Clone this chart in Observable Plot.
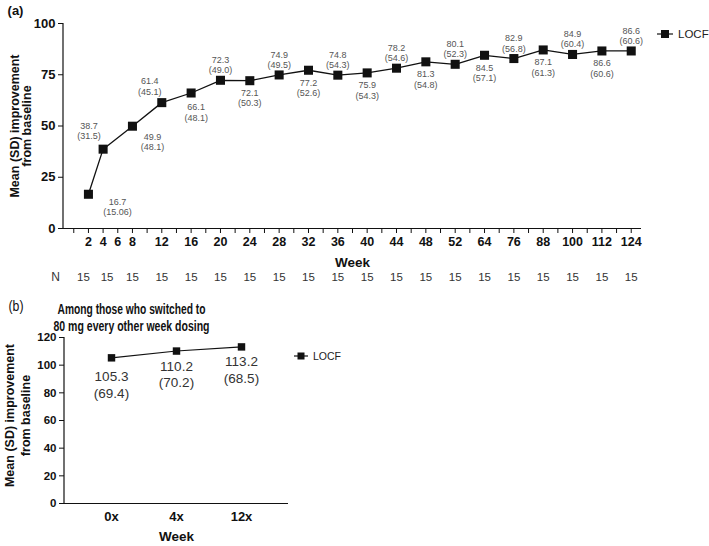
<!DOCTYPE html>
<html><head><meta charset="utf-8">
<script src="https://cdn.jsdelivr.net/npm/d3@7"></script>
<script src="https://cdn.jsdelivr.net/npm/@observablehq/plot@0.6"></script>
<style>
body{margin:0;background:#fff;font-family:"Liberation Sans",Arial,sans-serif;}
#wrap{position:relative;width:709px;height:546px;overflow:hidden;}
#a,#b{position:absolute;left:0;}
#a{top:0}#b{top:290px}
.leg{position:absolute;display:flex;align-items:center;color:#222;white-space:nowrap;}
.leg svg{margin-right:5px;}
</style></head><body>
<div id="wrap"><div id="a"></div><div id="b"></div>
<div class="leg" id="legA" style="left:657px;top:28px;font-size:11.5px;"></div>
<div class="leg" id="legB" style="left:294px;top:350px;font-size:10.5px;"></div>
</div>
<script>
// ---- data: panel (a)
const weeks = [2,4,8,12,16,20,24,28,32,36,40,44,48,52,64,76,88,100,112,124];
const meanA = [16.7,38.7,49.9,61.4,66.1,72.3,72.1,74.9,77.2,74.8,75.9,78.2,81.3,80.1,84.5,82.9,87.1,84.9,86.6,86.6];
const sdA = ["15.06","31.5","48.1","45.1","48.1","49.0","50.3","49.5","52.6","54.3","54.3","54.6","54.8","52.3","57.1","56.8","61.3","60.4","60.6","60.6"];
const nA = [15,15,15,15,15,15,15,15,15,15,15,15,15,15,15,15,15,15,15,15];
const tickWeeks = [2,4,6,8,12,16,20,24,28,32,36,40,44,48,52,64,76,88,100,112,124];
const yTicksA = [0,25,50,75,100];
// ---- data: panel (b)
const catsB = ["0x","4x","12x"];
const meanB = [105.3,110.2,113.2];
const sdB = ["69.4","70.2","68.5"];
const yTicksB = [0,20,40,60,80,100,120];
const titleB = ["Among those who switched to", "80 mg every other week dosing"];

const FONT = "'Liberation Sans', Arial, sans-serif";
// axis position: 2-week ticks up to week 52, then 6-week ticks
const pos = w => w <= 52 ? w / 2 : 26 + (w - 52) / 6;
const xDomA = [-0.7, 38.7];
const dataA = weeks.map((w, i) => ({week: w, p: pos(w), mean: meanA[i], sd: sdA[i], n: nA[i], i}));
const lab = d => `${d.mean.toFixed(1)}\n(${d.sd})`;

const leftLine = (index, scales, values, dims) =>
  d3.create("svg:line").attr("x1", dims.marginLeft).attr("x2", dims.marginLeft)
    .attr("y1", dims.marginTop).attr("y2", dims.height - dims.marginBottom)
    .attr("stroke", "#111").attr("stroke-width", 1.2).node();

const labStyle = {fontSize: 9, fill: "#555", lineHeight: 1.15};
const special = [
  {i: 0, dx: 29, dy: 3, anchor: "top"},
  {i: 1, dx: -14, dy: -10, anchor: "bottom"},
  {i: 2, dx: 20, dy: 6, anchor: "top"},
  {i: 3, dx: -12, dy: -8, anchor: "bottom"},
  {i: 4, dx: 5, dy: 10, anchor: "top"}
];
const generic = dataA.filter(d => d.i > 4);
const nStyle = {frameAnchor: "bottom", dy: 52, fontSize: 11.5, fill: "#333"};

const plotA = Plot.plot({
  width: 709, height: 290,
  marginTop: 23, marginBottom: 62, marginLeft: 63, marginRight: 68,
  style: {fontFamily: FONT, background: "transparent", color: "#111"},
  x: {domain: xDomA, label: null},
  y: {domain: [0, 100], label: null},
  marks: [
    Plot.axisX(d3.range(0, 39), {
      tickSize: 5, tickPadding: 4, fontSize: 12.5, fontWeight: "bold", fill: "#111",
      tickFormat: p => { const w = tickWeeks.find(t => pos(t) === p); return w === undefined ? "" : String(w); }
    }),
    Plot.axisY(yTicksA, {tickSize: 5, tickPadding: 3, fontSize: 13, fontWeight: "bold", fill: "#111"}),
    Plot.ruleY([0], {stroke: "#111", strokeWidth: 1.2}),
    leftLine,
    Plot.line(dataA, {x: "p", y: "mean", stroke: "#111", strokeWidth: 1.3}),
    Plot.dot(dataA, {x: "p", y: "mean", symbol: "square", r: 5.1, fill: "#111", stroke: "none"}),
    Plot.text(generic.filter(d => d.i % 2 === 1), {x: "p", y: "mean", text: lab, lineAnchor: "bottom", dy: -7, ...labStyle}),
    Plot.text(generic.filter(d => d.i % 2 === 0), {x: "p", y: "mean", text: lab, lineAnchor: "top", dy: 8, ...labStyle}),
    ...special.map(s => Plot.text([dataA[s.i]], {x: "p", y: "mean", text: lab, lineAnchor: s.anchor, dx: s.dx, dy: s.dy, ...labStyle})),
    Plot.text(dataA.slice(0, 1), {x: "p", text: d => String(d.n), ...nStyle, dx: -5}),
    Plot.text(dataA.slice(1, 2), {x: "p", text: d => String(d.n), ...nStyle, dx: 4}),
    Plot.text(dataA.slice(2), {x: "p", text: d => String(d.n), ...nStyle}),
    Plot.text(["N"], {frameAnchor: "bottom-left", dx: -8, dy: 52, textAnchor: "middle", fontSize: 12, fill: "#333"}),
    Plot.text(["Week"], {frameAnchor: "bottom", dy: 38, fontSize: 13.5, fontWeight: "bold", fill: "#111"}),
    Plot.text(["(a)"], {frameAnchor: "top-left", dx: -48, dy: -18, textAnchor: "middle", fontSize: 13, fontWeight: "bold", fill: "#111"}),
    Plot.text(["Mean (SD) improvement\nfrom baseline"], {frameAnchor: "left", dx: -42, rotate: -90, textAnchor: "middle", fontSize: 12.5, fontWeight: "bold", lineHeight: 0.95, fill: "#111"})
  ]
});
document.getElementById("a").append(plotA);

const dataB = catsB.map((c, i) => ({cat: c, mean: meanB[i], sd: sdB[i]}));
const titleStyle = {frameAnchor: "top", dx: -45, fontSize: 15, fontWeight: "bold", fill: "#111"};
const plotB = Plot.plot({
  width: 709, height: 256,
  marginTop: 47, marginBottom: 43, marginLeft: 64, marginRight: 421,
  style: {fontFamily: FONT, background: "transparent", color: "#111"},
  x: {type: "point", domain: catsB, padding: 0.7, label: null},
  y: {domain: [0, 120], label: null},
  marks: [
    Plot.axisX({tickSize: 0, tickPadding: 8, fontSize: 13, fontWeight: "bold", fill: "#111"}),
    Plot.axisY(yTicksB, {tickSize: 5, tickPadding: 3, fontSize: 11.5, fontWeight: "bold", fill: "#111"}),
    Plot.ruleY([0], {stroke: "#111", strokeWidth: 1.2}),
    leftLine,
    Plot.line(dataB, {x: "cat", y: "mean", stroke: "#111", strokeWidth: 1.1}),
    Plot.dot(dataB, {x: "cat", y: "mean", symbol: "square", r: 4.2, fill: "#111", stroke: "none"}),
    Plot.text(dataB.slice(0, 1), {x: "cat", y: "mean", text: d => `${d.mean.toFixed(1)}\n(${d.sd})`, lineAnchor: "top", dy: 12, fontSize: 13.5, fill: "#333", lineHeight: 1.2}),
    Plot.text(dataB.slice(1), {x: "cat", y: "mean", text: d => `${d.mean.toFixed(1)}\n(${d.sd})`, lineAnchor: "top", dy: 8, fontSize: 13.5, fill: "#333", lineHeight: 1.2}),
    Plot.text(["Week"], {frameAnchor: "bottom", dy: 37, fontSize: 13.5, fontWeight: "bold", fill: "#111"}),
    Plot.text(["(b)"], {frameAnchor: "top-left", dx: -48.5, dy: -36, textAnchor: "middle", fontSize: 14, fill: "#111", className: "narrowB"}),
    Plot.text([titleB[0]], {...titleStyle, dy: -34, className: "title1"}),
    Plot.text([titleB[1]], {...titleStyle, dy: -17, className: "title2"}),
    Plot.text(["Mean (SD) improvement\nfrom baseline"], {frameAnchor: "left", dx: -48, dy: -5, rotate: -90, textAnchor: "middle", fontSize: 12.5, fontWeight: "bold", lineHeight: 1.3, fill: "#111"})
  ]
});
document.getElementById("b").append(plotB);
// condensed look of the panel (b) title
d3.select(plotB).selectAll(".title1 text").attr("textLength", 148).attr("lengthAdjust", "spacingAndGlyphs");
d3.select(plotB).selectAll(".title2 text").attr("textLength", 156).attr("lengthAdjust", "spacingAndGlyphs");
d3.select(plotB).selectAll(".narrowB text").attr("textLength", 15).attr("lengthAdjust", "spacingAndGlyphs");

// legends
function swatch(el, w, s) {
  const svg = d3.select(el).append("svg").attr("width", w).attr("height", 10);
  svg.append("line").attr("x1", 0).attr("x2", w).attr("y1", 5).attr("y2", 5).attr("stroke", "#111").attr("stroke-width", 1.2);
  svg.append("rect").attr("x", w / 2 - s / 2).attr("y", 5 - s / 2).attr("width", s).attr("height", s).attr("fill", "#111");
  d3.select(el).append("span").text("LOCF");
}
swatch(document.getElementById("legA"), 16, 8);
swatch(document.getElementById("legB"), 14, 7);
</script>
</body></html>
